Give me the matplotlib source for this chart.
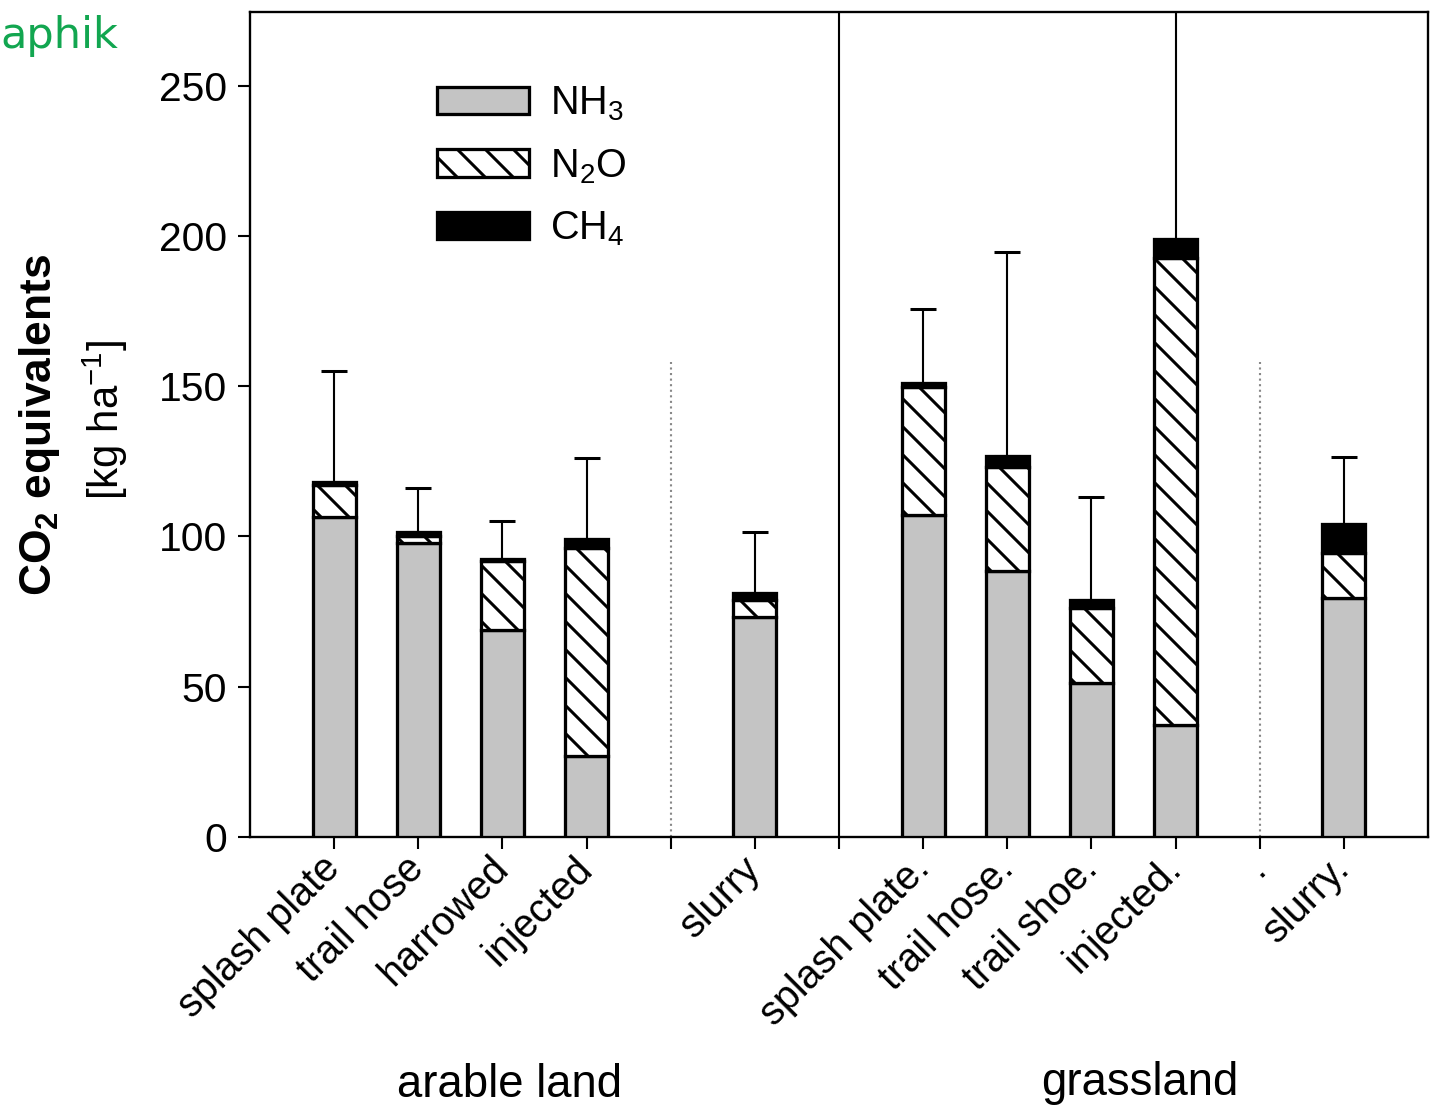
import numpy as np
import matplotlib.pyplot as plt

plt.rcParams['font.family'] = ['Liberation Sans', 'DejaVu Sans']
plt.rcParams['mathtext.fontset'] = 'custom'
plt.rcParams['mathtext.rm'] = 'Liberation Sans'
plt.rcParams['mathtext.bf'] = 'Liberation Sans:bold'
plt.rcParams['mathtext.it'] = 'Liberation Sans:italic'
plt.rcParams['hatch.linewidth'] = 1.3

# data (CO2 equivalents, kg/ha)
tick_labels = ['splash plate', 'trail hose', 'harrowed', 'injected', '', 'slurry', '',
               'splash plate.', 'trail hose.', 'trail shoe.', 'injected.', '.', 'slurry.']
nh3 = [106.5, 97.8, 68.9, 27.0, 73.3, 107.2, 88.6, 51.3, 37.3, 79.5]
n2o = [10.5, 2.5, 23.0, 69.0, 5.6, 42.5, 34.4, 25.0, 155.5, 15.0]
ch4 = [1.0, 1.3, 0.5, 3.0, 2.2, 1.3, 3.8, 2.7, 6.2, 9.5]
err_upper = [37.0, 14.4, 12.6, 27.0, 20.4, 24.6, 67.7, 34.0, 91.0, 22.5]
groups = ['arable land', 'grassland']

dpi = 168
fig = plt.figure(figsize=(1430 / dpi, 1110 / dpi), dpi=dpi)
ax = fig.add_axes([250 / 1430, 273 / 1110, 1178 / 1430, 825 / 1110])

tick_x = np.arange(1, len(tick_labels) + 1)
bar_x = np.array([x for x, t in zip(tick_x, tick_labels) if t.strip('. ')])
nh3 = np.array(nh3)
n2o = np.array(n2o)
ch4 = np.array(ch4)
total = nh3 + n2o + ch4

w = 0.51
ax.bar(bar_x, nh3, w, color='#c4c4c4', edgecolor='black', linewidth=1.4, label='NH$_3$', zorder=3)
ax.bar(bar_x, n2o, w, bottom=nh3, color='white', edgecolor='black', hatch='\\\\',
       linewidth=1.4, label='N$_2$O', zorder=3)
ax.bar(bar_x, ch4, w, bottom=nh3 + n2o, color='black', edgecolor='black',
       linewidth=1.4, label='CH$_4$', zorder=3)
ax.errorbar(bar_x, total, yerr=[np.zeros_like(total), err_upper], fmt='none',
            ecolor='black', elinewidth=0.9, capsize=5.5, capthick=1.3, zorder=2)

# separators
ax.axvline(7, color='black', linewidth=0.9, zorder=1)
ax.vlines([5, 12], 0, 158, colors='#888888', linestyles=':', linewidth=0.9, zorder=1)

ax.set_xlim(0, 14)
ax.set_ylim(0, 274.5)
ax.set_yticks(np.arange(0, 251, 50))
ax.set_xticks(tick_x)
ax.set_xticklabels(tick_labels, rotation=45, ha='right', va='center',
                   rotation_mode='anchor', fontsize=17)
ax.tick_params(axis='y', labelsize=17.5, length=5, width=0.9, pad=5)
ax.tick_params(axis='x', length=5, width=0.9, pad=6)
for s in ax.spines.values():
    s.set_linewidth(1.0)

leg = ax.legend(loc='upper left', bbox_to_anchor=(0.159, 0.912), frameon=False,
                fontsize=17, handlelength=2.3, handleheight=0.68,
                handletextpad=0.55, labelspacing=0.6, borderpad=0, borderaxespad=0)

fig.text(40 / 1430, 1 - 425 / 1110, 'CO$_\\mathbf{2}$ equivalents', rotation=90,
         fontsize=19, fontweight='bold', ha='center', va='center')
fig.text(105 / 1430, 1 - 420 / 1110, '[kg ha$^{-1}$]', rotation=90,
         fontsize=18, ha='center', va='center')

fig.text(510 / 1430, 1 - 1085 / 1110, groups[0], fontsize=19.5, ha='center', va='center')
fig.text(1140 / 1430, 1 - 1083 / 1110, groups[1], fontsize=19.5, ha='center', va='center')

fig.text(0.0, 1 - 36 / 1110, 'aphik', fontsize=18.5, color='#12a650',
         family='DejaVu Sans', ha='left', va='center')

fig.savefig('out.png', dpi=dpi, facecolor='white')
